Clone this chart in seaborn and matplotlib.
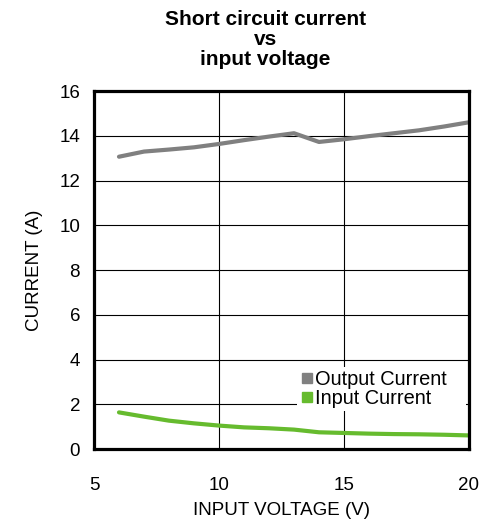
import pandas as pd
import numpy as np
import matplotlib.pyplot as plt
import seaborn as sns
from matplotlib.lines import Line2D

voltage = [6, 7, 8, 9, 10, 11, 12, 13, 14, 15, 16, 17, 18, 19, 20]
output_current = [13.07, 13.3, 13.39, 13.49, 13.64, 13.81, 13.97, 14.12, 13.73, 13.85, 13.99, 14.12, 14.25, 14.42, 14.61]
input_current = [1.64, 1.45, 1.27, 1.15, 1.05, 0.97, 0.93, 0.87, 0.75, 0.72, 0.69, 0.67, 0.66, 0.64, 0.61]

df = pd.DataFrame({
    "voltage": voltage * 2,
    "current": output_current + input_current,
    "series": ["Output Current"] * len(voltage) + ["Input Current"] * len(voltage),
})

sns.set_style("white")
plt.rcParams["font.family"] = ["Liberation Sans", "DejaVu Sans"]
plt.rcParams["text.color"] = "black"
plt.rcParams["axes.labelcolor"] = "black"
plt.rcParams["xtick.color"] = "black"
plt.rcParams["ytick.color"] = "black"

colors = {"Output Current": "#808080", "Input Current": "#66bb2e"}

fig = plt.figure(figsize=(4.87, 5.24), dpi=100)
ax = fig.add_axes([0.193, 0.143, 0.77, 0.683])

sns.lineplot(data=df, x="voltage", y="current", hue="series", palette=colors,
             linewidth=3.0, legend=False, ax=ax)

ax.set_xlim(5, 20)
ax.set_ylim(0, 16)
ax.set_xticks([5, 10, 15, 20])
ax.set_yticks(range(0, 17, 2))
ax.grid(True, color="black", linewidth=0.8)
ax.set_axisbelow(True)
for s in ax.spines.values():
    s.set_visible(True)
    s.set_color("black")
    s.set_linewidth(2.3)
ax.tick_params(axis="both", labelsize=13.5, length=0)
ax.tick_params(axis="x", pad=20)
ax.tick_params(axis="y", pad=10)

ax.set_xlabel("INPUT VOLTAGE (V)", fontsize=13.5, labelpad=6)
ax.set_ylabel("CURRENT (A)", fontsize=13.5, labelpad=12)
fig.text(0.545, 1 - 10 / 524, "Short circuit current\nvs\ninput voltage", fontsize=15,
         fontweight="bold", linespacing=1.07, ha="center", va="top")

handles = [Line2D([], [], marker="s", linestyle="", color=colors[k], markersize=7.5)
           for k in ["Output Current", "Input Current"]]
leg = ax.legend(handles, ["Output Current", "Input Current"], loc="upper left",
                bbox_to_anchor=(0.541, 0.10, 0.452, 0.13), mode="expand", frameon=True,
                fontsize=14.4, handletextpad=0.05, labelspacing=0.0, borderpad=0.15,
                borderaxespad=0, handlelength=0.7)
leg.get_frame().set_facecolor("white")
leg.get_frame().set_edgecolor("none")
leg.get_frame().set_alpha(1)
leg.get_frame().set_boxstyle("square", pad=0)

fig.savefig("out.png", dpi=100)
